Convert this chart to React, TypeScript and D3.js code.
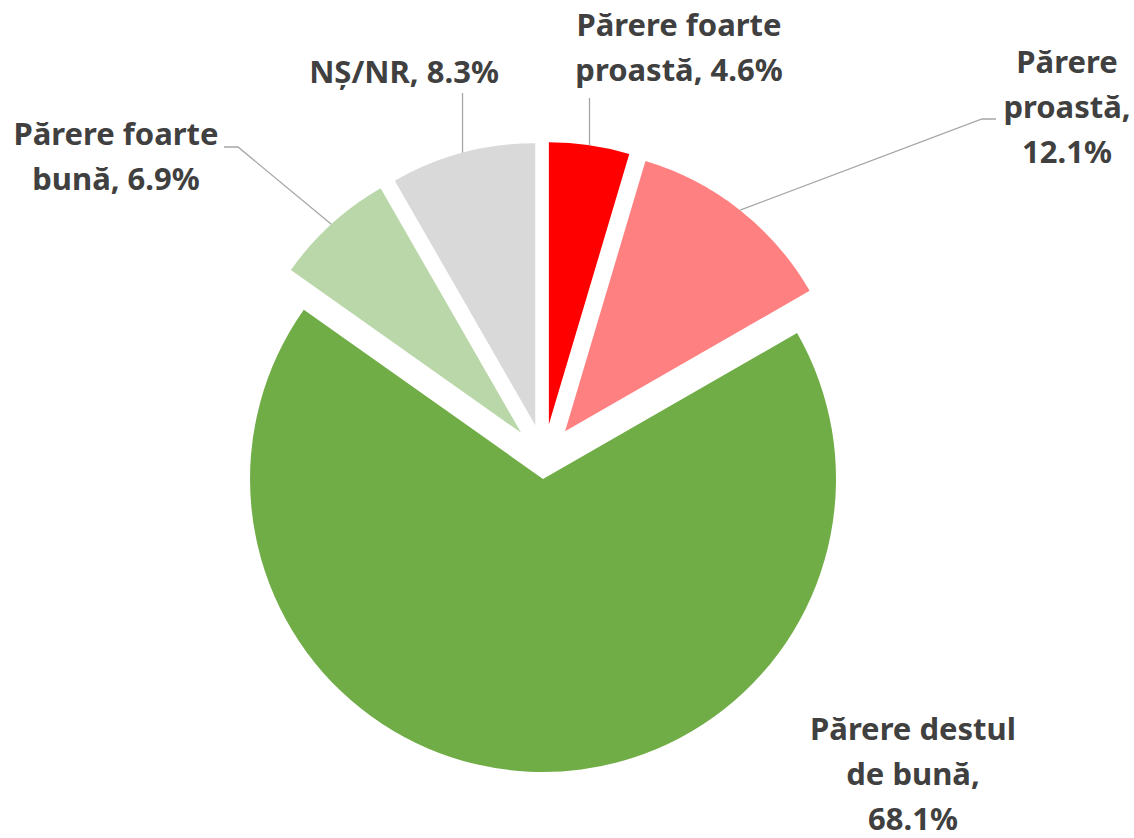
import React from 'react'
import * as d3 from 'd3'

// opinion shares, clockwise from 12 o'clock
const categories = ['Părere foarte proastă', 'Părere proastă', 'Părere destul de bună', 'Părere foarte bună', 'NȘ/NR']
const values = [4.6, 12.1, 68.1, 6.9, 8.3]
const colors = ['#FF0000', '#FF8080', '#70AD47', '#B9D7A8', '#D9D9D9']
// label text, split in lines as in the original
const labelLines = [
  ['Părere foarte', 'proastă, 4.6%'],
  ['Părere', 'proastă,', '12.1%'],
  ['Părere destul', 'de bună,', '68.1%'],
  ['Părere foarte', 'bună, 6.9%'],
  ['NȘ/NR, 8.3%'],
]

const width = 1134
const height = 838
const cx = 544
const cy = 458
const rSmall = 282
const rBig = 293
const explode = [34, 34, 21, 34, 34]
const lineH = 45

// where each label sits (first baseline) and how its leader line bends
const labelPos = [
  { x: 679, y: 36, elbow: null as null | [number, number], end: null as null | [number, number], leaderTop: 98 },
  { x: 1067, y: 73, elbow: [982, 119], end: [996, 119], leaderTop: 0 },
  { x: 913, y: 740, elbow: null, end: null, leaderTop: -1 },
  { x: 116, y: 145, elbow: [238, 147], end: [224, 147], leaderTop: 0 },
  { x: 404, y: 83, elbow: null, end: null, leaderTop: 93 },
]

export default function App() {
  const pie = d3.pie<number>().sort(null).value(d => d).startAngle(0).endAngle(2 * Math.PI)
  const arcs = pie(values)

  return (
    <div style={{ position: 'absolute', left: 0, top: 0 }}>
      <svg width={width} height={height} style={{ display: 'block', background: '#fff' }}>
        {arcs.map((a, i) => {
          const r = values[i] > 50 ? rBig : rSmall
          const mid = (a.startAngle + a.endAngle) / 2
          const ox = cx + explode[i] * Math.sin(mid)
          const oy = cy - explode[i] * Math.cos(mid)
          const arc = d3.arc<d3.PieArcDatum<number>>().innerRadius(0).outerRadius(r)
          return (
            <path key={categories[i]} d={arc(a) || ''} fill={colors[i]} transform={`translate(${ox},${oy})`} />
          )
        })}
        {arcs.map((a, i) => {
          const lp = labelPos[i]
          if (lp.leaderTop < 0) return null
          const mid = (a.startAngle + a.endAngle) / 2
          const px = cx + (explode[i] + rSmall) * Math.sin(mid)
          const py = cy - (explode[i] + rSmall) * Math.cos(mid)
          const pts: [number, number][] = lp.elbow
            ? [[px, py], lp.elbow as [number, number], lp.end as [number, number]]
            : [[px, py], [px, lp.leaderTop]]
          return (
            <path key={'l' + i} d={d3.line()(pts) || ''} fill="none" stroke="#A6A6A6" strokeWidth={1.3} />
          )
        })}
        {labelLines.map((lines, i) => (
          <text
            key={'t' + i}
            x={labelPos[i].x}
            y={labelPos[i].y}
            textAnchor="middle"
            fill="#404040"
            fontFamily="'Noto Sans', sans-serif"
            fontWeight="bold"
            fontSize={31}
          >
            {lines.map((s, j) => (
              <tspan key={j} x={labelPos[i].x} y={labelPos[i].y + j * lineH}>{s}</tspan>
            ))}
          </text>
        ))}
      </svg>
    </div>
  )
}
